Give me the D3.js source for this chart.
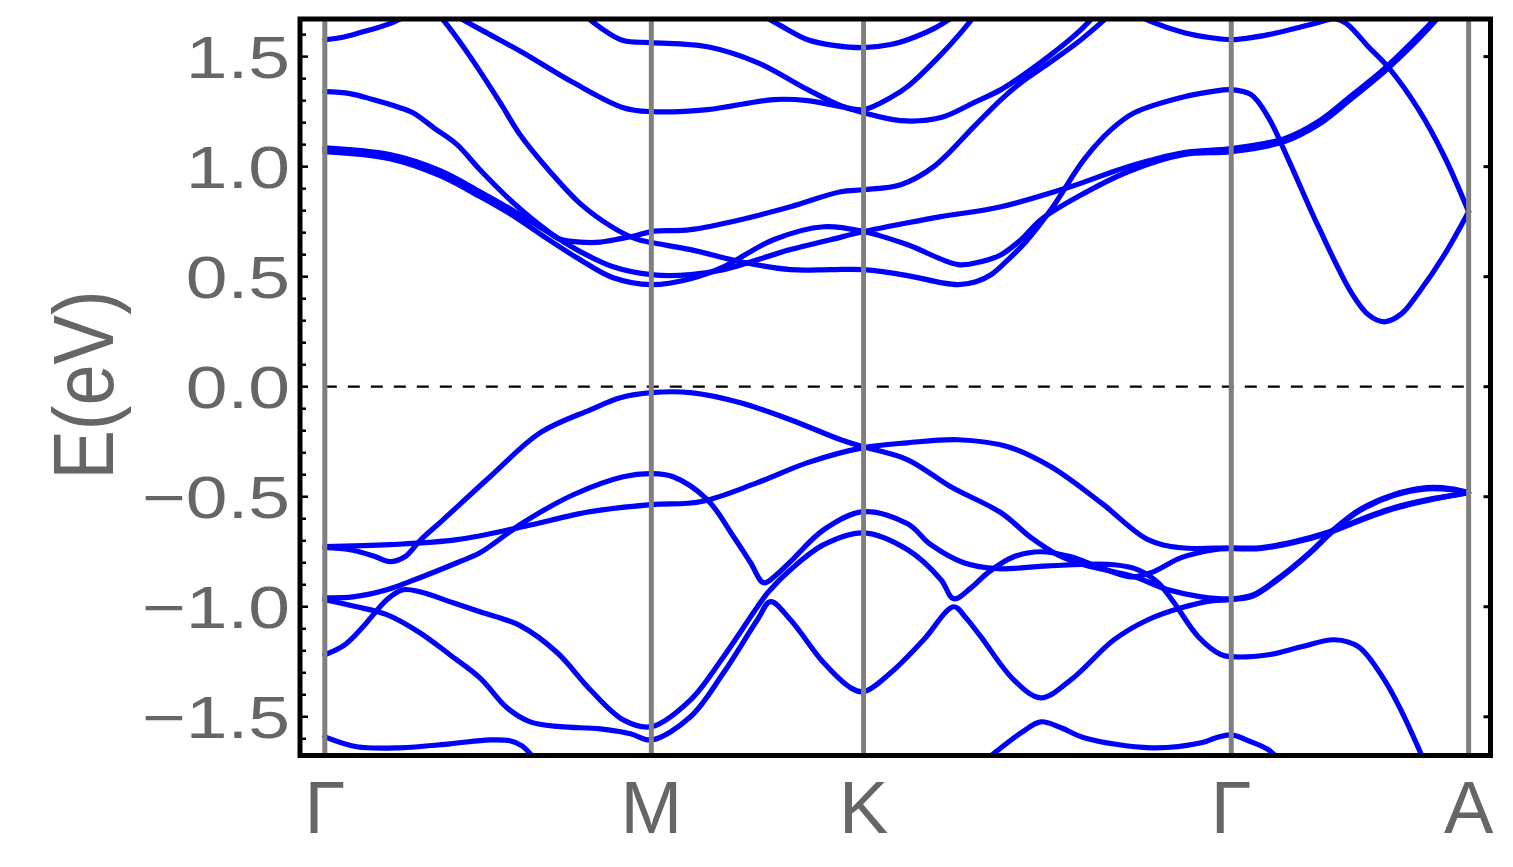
<!DOCTYPE html>
<html><head><meta charset="utf-8">
<script src="https://cdn.jsdelivr.net/npm/d3@7"></script>
<style>body{margin:0;background:#fff}svg{display:block}</style>
</head><body>
<svg id="chart" width="1513" height="867"></svg>
<script>
// High-symmetry points along the k-path
const kTicks = [0, 1.000, 1.650, 2.776, 3.503];
const kLabels = ["Γ", "M", "K", "Γ", "A"];
// Energy ticks (eV)
const eTicks = [-1.5, -1.0, -0.5, 0.0, 0.5, 1.0, 1.5];

// Bands: [k, E(eV)]
const bandC1 = [[0,1.577],[0.046,1.586],[0.098,1.605],[0.199,1.650],[0.276,1.705]];
const bandB = [[0.340,1.705],[0.374,1.645],[0.445,1.500],[0.537,1.291],[0.598,1.145],[0.690,0.977],[0.782,0.832],[0.883,0.723],[0.951,0.673],[1.000,0.655],[1.120,0.623],[1.273,0.568],[1.426,0.532],[1.549,0.532],[1.650,0.532],[1.785,0.505],[1.887,0.473],[1.939,0.464],[1.994,0.477],[2.040,0.509],[2.086,0.568],[2.147,0.659],[2.224,0.805],[2.325,1.032],[2.408,1.168],[2.479,1.245],[2.632,1.318],[2.715,1.341],[2.776,1.350],[2.837,1.327],[2.890,1.223],[2.951,1.032],[3.043,0.727],[3.144,0.427],[3.196,0.327],[3.245,0.295],[3.298,0.332],[3.350,0.427],[3.429,0.600],[3.503,0.795]];
const bandC = [[0,1.341],[0.077,1.332],[0.147,1.305],[0.230,1.268],[0.270,1.245],[0.337,1.173],[0.405,1.100],[0.475,0.986],[0.577,0.836],[0.681,0.709],[0.721,0.670],[0.782,0.657],[0.844,0.657],[0.905,0.673],[0.951,0.686],[1.000,0.705],[1.120,0.714],[1.273,0.759],[1.426,0.818],[1.580,0.886],[1.650,0.895],[1.764,0.918],[1.865,1.000],[1.988,1.182],[2.071,1.305],[2.132,1.382],[2.224,1.477],[2.316,1.577],[2.399,1.682],[2.423,1.714]];
const bandT1 = [[0,1.086],[0.199,1.055],[0.353,0.982],[0.475,0.886],[0.577,0.800],[0.681,0.705],[0.782,0.614],[0.883,0.545],[1.000,0.509],[1.120,0.509],[1.221,0.532],[1.426,0.623],[1.549,0.668],[1.650,0.705],[1.785,0.745],[1.887,0.773],[2.071,0.818],[2.276,0.905],[2.460,1.000],[2.632,1.064],[2.776,1.082],[2.939,1.127],[3.043,1.205],[3.144,1.323],[3.245,1.445],[3.359,1.609],[3.414,1.695]];
const bandT2 = [[0,1.068],[0.199,1.036],[0.353,0.959],[0.475,0.864],[0.577,0.777],[0.681,0.673],[0.782,0.577],[0.883,0.495],[1.000,0.464],[1.120,0.491],[1.221,0.545],[1.374,0.668],[1.528,0.727],[1.650,0.705],[1.785,0.645],[1.939,0.555],[2.009,0.568],[2.071,0.600],[2.132,0.668],[2.193,0.759],[2.307,0.864],[2.460,0.977],[2.632,1.055],[2.776,1.068],[2.939,1.114],[3.043,1.191],[3.144,1.309],[3.245,1.432],[3.359,1.595],[3.420,1.695]];
const bandM1 = [[0.782,1.705],[0.844,1.632],[0.914,1.573],[1.000,1.564],[1.172,1.545],[1.325,1.473],[1.479,1.350],[1.580,1.277],[1.650,1.245],[1.764,1.209],[1.887,1.223],[1.988,1.291],[2.071,1.350],[2.132,1.409],[2.224,1.509],[2.316,1.623],[2.362,1.695]];
const bandM2 = [[0.383,1.705],[0.423,1.668],[0.506,1.600],[0.607,1.518],[0.761,1.382],[0.914,1.268],[1.000,1.250],[1.172,1.259],[1.374,1.305],[1.479,1.300],[1.580,1.273],[1.650,1.259],[1.733,1.314],[1.785,1.364],[1.887,1.509],[1.948,1.609],[2.000,1.705]];
const bandK154 = [[1.319,1.705],[1.396,1.641],[1.479,1.577],[1.564,1.550],[1.650,1.541],[1.733,1.555],[1.785,1.577],[1.871,1.632],[1.948,1.705]];
const bandG158 = [[2.469,1.705],[2.531,1.659],[2.632,1.609],[2.715,1.586],[2.776,1.577],[2.890,1.600],[2.991,1.636],[3.043,1.655],[3.092,1.673],[3.129,1.650],[3.196,1.545],[3.258,1.450],[3.350,1.259],[3.429,1.045],[3.503,0.795]];

const bandV1 = [[0,-0.732],[0.077,-0.741],[0.147,-0.768],[0.199,-0.795],[0.245,-0.773],[0.291,-0.700],[0.362,-0.605],[0.506,-0.409],[0.660,-0.209],[0.813,-0.105],[0.905,-0.050],[1.000,-0.027],[1.120,-0.027],[1.273,-0.073],[1.426,-0.150],[1.580,-0.241],[1.650,-0.273],[1.785,-0.332],[1.917,-0.455],[2.071,-0.573],[2.163,-0.686],[2.245,-0.764],[2.325,-0.809],[2.479,-0.864],[2.583,-0.923],[2.684,-0.955],[2.776,-0.964],[2.844,-0.945],[2.914,-0.877],[3.015,-0.755],[3.089,-0.650],[3.169,-0.559],[3.273,-0.491],[3.374,-0.459],[3.451,-0.464],[3.503,-0.482]];
const bandV2 = [[0,-0.727],[0.199,-0.718],[0.405,-0.695],[0.607,-0.636],[0.813,-0.568],[1.000,-0.536],[1.150,-0.523],[1.325,-0.436],[1.479,-0.345],[1.650,-0.277],[1.785,-0.255],[1.939,-0.241],[2.092,-0.273],[2.224,-0.364],[2.377,-0.527],[2.521,-0.695],[2.623,-0.732],[2.776,-0.732],[2.862,-0.732],[2.966,-0.705],[3.067,-0.664],[3.169,-0.605],[3.273,-0.550],[3.374,-0.514],[3.503,-0.482]];
const bandV3 = [[0,-0.959],[0.086,-0.955],[0.190,-0.923],[0.291,-0.868],[0.405,-0.800],[0.475,-0.755],[0.607,-0.618],[0.761,-0.491],[0.914,-0.409],[1.000,-0.395],[1.067,-0.409],[1.172,-0.514],[1.252,-0.682],[1.304,-0.800],[1.344,-0.891],[1.380,-0.859],[1.426,-0.795],[1.528,-0.650],[1.650,-0.568],[1.785,-0.623],[1.856,-0.718],[1.957,-0.800],[2.061,-0.827],[2.215,-0.814],[2.417,-0.809],[2.491,-0.832],[2.552,-0.891],[2.601,-0.982],[2.675,-1.136],[2.745,-1.218],[2.776,-1.227],[2.890,-1.218],[2.991,-1.182],[3.092,-1.150],[3.166,-1.182],[3.245,-1.332],[3.298,-1.477],[3.365,-1.695]];
const bandV4 = [[0,-1.218],[0.061,-1.173],[0.117,-1.091],[0.190,-0.968],[0.239,-0.923],[0.291,-0.932],[0.393,-0.982],[0.475,-1.023],[0.598,-1.086],[0.712,-1.209],[0.813,-1.377],[0.914,-1.514],[1.000,-1.545],[1.120,-1.423],[1.221,-1.227],[1.325,-1.000],[1.359,-0.932],[1.426,-0.832],[1.528,-0.718],[1.650,-0.664],[1.785,-0.741],[1.887,-0.877],[1.926,-0.964],[1.979,-0.914],[2.031,-0.845],[2.110,-0.773],[2.193,-0.750],[2.285,-0.773],[2.377,-0.823],[2.469,-0.864],[2.531,-0.845],[2.623,-0.777],[2.724,-0.741],[2.776,-0.736],[2.862,-0.736],[2.966,-0.709],[3.067,-0.668],[3.169,-0.609],[3.273,-0.555],[3.374,-0.518],[3.503,-0.482]];
const bandV5 = [[0,-0.968],[0.098,-1.000],[0.190,-1.036],[0.291,-1.118],[0.383,-1.218],[0.475,-1.323],[0.558,-1.459],[0.629,-1.523],[0.721,-1.545],[0.844,-1.555],[0.936,-1.577],[1.000,-1.605],[1.120,-1.500],[1.221,-1.300],[1.325,-1.059],[1.365,-0.977],[1.426,-1.059],[1.528,-1.255],[1.610,-1.368],[1.650,-1.386],[1.733,-1.300],[1.834,-1.150],[1.926,-1.000],[1.963,-1.050],[2.009,-1.136],[2.110,-1.332],[2.193,-1.414],[2.285,-1.332],[2.417,-1.150],[2.521,-1.059],[2.623,-1.005],[2.715,-0.973],[2.776,-0.968],[2.844,-0.950],[2.914,-0.882],[3.015,-0.759],[3.089,-0.655],[3.169,-0.564],[3.273,-0.495],[3.374,-0.464],[3.451,-0.468],[3.503,-0.482]];
const bandV6 = [[0,-1.591],[0.098,-1.636],[0.230,-1.641],[0.383,-1.623],[0.506,-1.605],[0.567,-1.609],[0.604,-1.632],[0.644,-1.695]];
const bandW = [[2.025,-1.695],[2.071,-1.641],[2.132,-1.573],[2.193,-1.523],[2.255,-1.550],[2.325,-1.595],[2.531,-1.641],[2.684,-1.618],[2.730,-1.595],[2.776,-1.582],[2.837,-1.614],[2.890,-1.650],[2.923,-1.695]];

const bands = [bandC1, bandB, bandC, bandT1, bandT2, bandM1, bandM2, bandK154, bandG158,
               bandV1, bandV2, bandV3, bandV4, bandV5, bandV6, bandW];

const svg = d3.select("#chart");
const x = d3.scaleLinear().domain([-0.076, 3.570]).range([300, 1490.5]);
const y = d3.scaleLinear().domain([-1.676, 1.671]).range([755.5, 19]);

svg.append("defs").append("clipPath").attr("id", "plotclip")
  .append("rect").attr("x", x.range()[0]).attr("y", y.range()[1])
  .attr("width", x.range()[1] - x.range()[0]).attr("height", y.range()[0] - y.range()[1]);

const plot = svg.append("g").attr("clip-path", "url(#plotclip)");

// Fermi level
plot.append("line")
  .attr("x1", x(kTicks[0])).attr("x2", x(kTicks[kTicks.length - 1]))
  .attr("y1", y(0)).attr("y2", y(0))
  .attr("stroke", "#000").attr("stroke-width", 2.2).attr("stroke-dasharray", "12,11");

const line = d3.line().x(d => x(d[0])).y(d => y(d[1])).curve(d3.curveCatmullRom.alpha(0.5));
plot.selectAll("path.band").data(bands).join("path")
  .attr("class", "band").attr("d", line)
  .attr("fill", "none").attr("stroke", "#0000ff").attr("stroke-width", 5.2)
  .attr("stroke-linejoin", "round").attr("stroke-linecap", "round");

// High-symmetry vertical lines
plot.selectAll("line.hs").data(kTicks).join("line")
  .attr("class", "hs")
  .attr("x1", d => x(d)).attr("x2", d => x(d))
  .attr("y1", y.range()[1]).attr("y2", y.range()[0])
  .attr("stroke", "#808080").attr("stroke-width", 5);

// Left ticks (major + minor, inside)
const minorTicks = d3.range(-16, 17).map(i => i / 10);
svg.selectAll("line.ltick").data(minorTicks).join("line")
  .attr("class", "ltick")
  .attr("x1", x.range()[0]).attr("x2", d => x.range()[0] + (Math.abs(d * 2 - Math.round(d * 2)) < 1e-6 ? 8 : 6))
  .attr("y1", d => y(d)).attr("y2", d => y(d))
  .attr("stroke", "#000").attr("stroke-width", 2.5);
// Right ticks (major only)
svg.selectAll("line.rtick").data(eTicks).join("line")
  .attr("class", "rtick")
  .attr("x1", x.range()[1]).attr("x2", x.range()[1] - 7)
  .attr("y1", d => y(d)).attr("y2", d => y(d))
  .attr("stroke", "#000").attr("stroke-width", 3);

// Frame
svg.append("rect")
  .attr("x", x.range()[0]).attr("y", y.range()[1])
  .attr("width", x.range()[1] - x.range()[0]).attr("height", y.range()[0] - y.range()[1])
  .attr("fill", "none").attr("stroke", "#000").attr("stroke-width", 5);

// Y tick labels
const fmt = d3.format(".1f");
svg.selectAll("text.ylab").data(eTicks).join("text")
  .attr("class", "ylab")
  .attr("transform", d => `translate(290,${y(d) + 21.5}) scale(1.25,1)`)
  .attr("text-anchor", "end")
  .attr("font-family", "'Liberation Sans', Arial, sans-serif")
  .attr("font-size", 60).attr("fill", "#666666")
  .text(d => fmt(d));

// X tick labels
svg.selectAll("text.xlab").data(kTicks).join("text")
  .attr("class", "xlab")
  .attr("x", d => x(d)).attr("y", 833)
  .attr("text-anchor", "middle")
  .attr("font-family", "'Liberation Sans', Arial, sans-serif")
  .attr("font-size", 74).attr("fill", "#666666")
  .text((d, i) => kLabels[i]);

// Axis title
svg.append("text")
  .attr("transform", "translate(113,385) rotate(-90) scale(1,1.15)")
  .attr("text-anchor", "middle")
  .attr("font-family", "'Liberation Sans', Arial, sans-serif")
  .attr("font-size", 74).attr("fill", "#666666")
  .text("E(eV)");
</script>
</body></html>
